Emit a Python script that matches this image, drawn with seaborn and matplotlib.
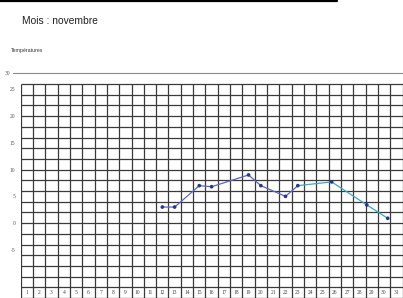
import matplotlib
matplotlib.use("Agg")
import matplotlib.pyplot as plt
import seaborn as sns
import pandas as pd
import numpy as np
from matplotlib.lines import Line2D

# ---- data ----
days_a = [12, 13, 15, 16, 19, 20, 22, 23]
temps_a = [3, 3, 7, 6.8, 9, 7, 5, 7]
days_b = [23, 25.75, 28.6, 30.3]
temps_b = [7, 7.7, 3.4, 0.9]
day_labels = list(range(1, 32))
y_tick_values = [25, 20, 15, 10, 5, 0, -5]
title = "Mois : novembre"
ylabel = "Températures"

sns.set_style("white")
plt.rcParams['font.family'] = ['Liberation Sans', 'DejaVu Sans']

fig = plt.figure(figsize=(4.03, 2.98), dpi=100)
ax = fig.add_axes([20.7 / 403, 0.0, (402.5 - 20.7) / 403, (298 - 84) / 298 + (2.5 * 5.35) / 298])
Y_BOTTOM, Y_TOP = -14, 28.5
ax.set_xlim(0.5, 31.5)
ax.set_ylim(Y_BOTTOM, Y_TOP)

# grid paper
grid_color = '#3a3a3a'
hy = np.arange(-14, 27, 2)
ax.hlines(hy, 0.5, 31.5, color=grid_color, lw=0.9, zorder=1)
vx = np.arange(0.5, 32.5, 1)
ax.vlines(vx, -14, 26, color=grid_color, lw=0.9, zorder=1)

# line at "30"
ax.plot([-0.15, 31.5], [28, 28], color='#8a8a8a', lw=0.8, clip_on=False, zorder=1)
ax.text(-0.6, 28, "30", fontsize=4.0, family='Liberation Serif', color='#555',
        ha='center', va='center', clip_on=False)

# y tick labels
ax.set_yticks(y_tick_values)
ax.set_yticklabels([str(v) for v in y_tick_values], fontsize=4.0,
                   family='Liberation Serif', color='#555')
ax.tick_params(axis='y', length=0, pad=4)
ax.set_xticks([])

# day labels in the bottom row
for d in day_labels:
    ax.text(d, -13, str(d), fontsize=4.0, family='Liberation Serif', color='#444',
            ha='center', va='center')

for s in ax.spines.values():
    s.set_visible(False)

df_a = pd.DataFrame({"day": days_a, "temp": temps_a})
df_b = pd.DataFrame({"day": days_b, "temp": temps_b})
sns.lineplot(data=df_a, x="day", y="temp", color='#5b67c4', lw=0.9, ax=ax,
             sort=False, zorder=3)
sns.lineplot(data=df_b, x="day", y="temp", color='#3aa8c6', lw=0.9, ax=ax,
             sort=False, zorder=3)
df_pts = pd.concat([df_a, df_b.iloc[1:]])
sns.scatterplot(data=df_pts, x="day", y="temp", color='#28358c', s=7,
                edgecolor='none', ax=ax, zorder=4)
ax.set_xlabel("")
ax.set_ylabel("")

fig.text(21.7 / 403, 1 - 20.7 / 298, title, fontsize=7.4, ha='left', va='center',
         color='#222')
fig.text(11 / 403, 1 - 50.7 / 298, ylabel, fontsize=3.8, ha='left', va='center',
         color='#333')

# black rule at the very top
fig.add_artist(Line2D([0, 337 / 403], [0.998, 0.998], color='black', lw=1.6,
                      transform=fig.transFigure))

fig.savefig("out.png", dpi=100, facecolor='white')
